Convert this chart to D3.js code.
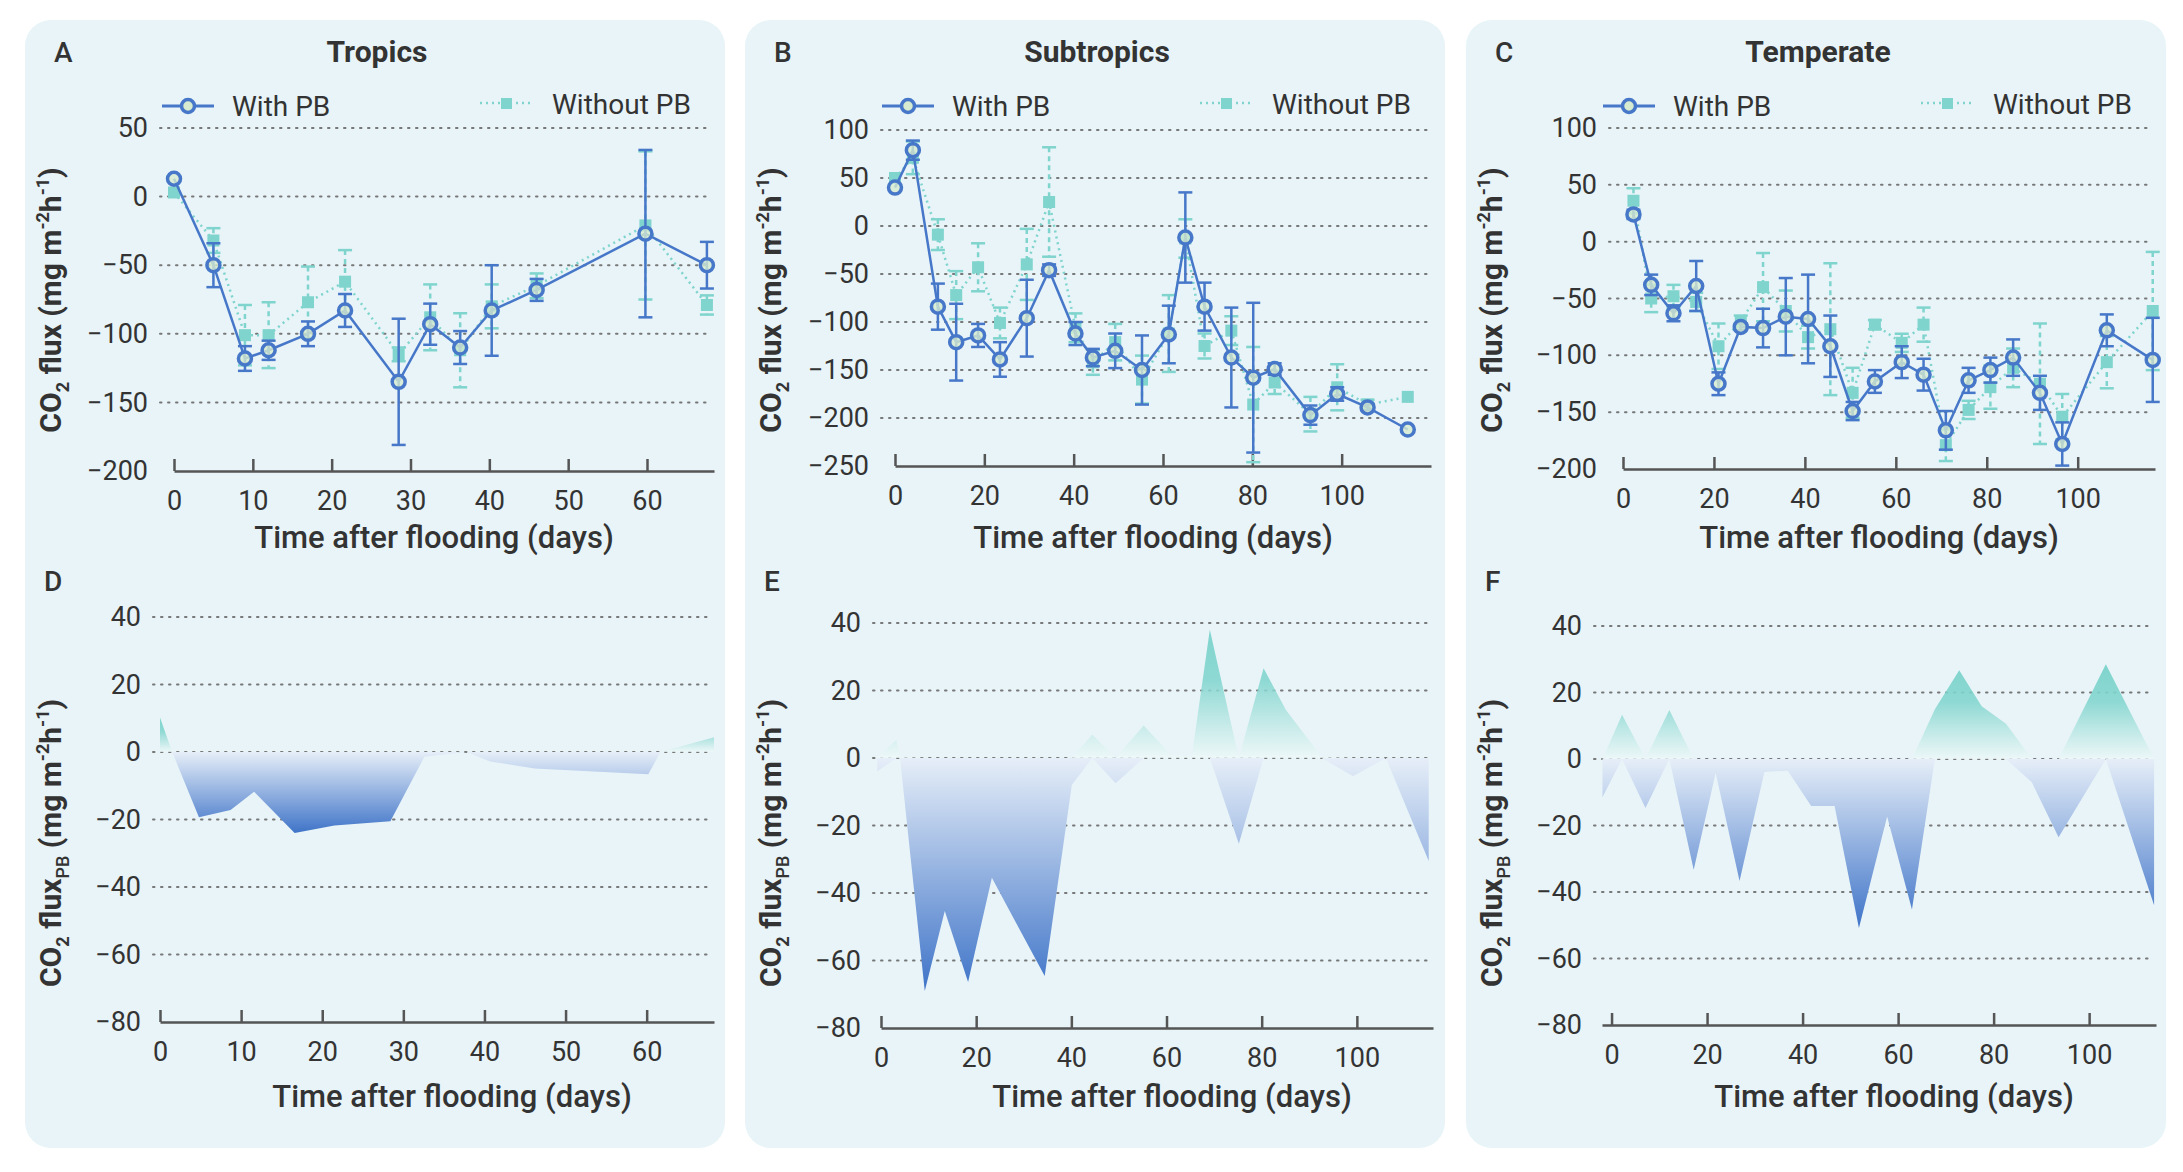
<!DOCTYPE html>
<html>
<head>
<meta charset="utf-8">
<script src="https://cdn.jsdelivr.net/npm/d3@7"></script>
<style>
  body { margin: 0; background: #fff; }
  svg { font-family: Roboto, 'Noto Sans', sans-serif; }
</style>
</head>
<body>
<svg width="2183" height="1172"></svg>
<script>
// Tropics (A, D)
const tropicsDays = [0, 5, 9, 12, 17, 21.7, 28.5, 32.5, 36.3, 40.3, 46, 59.8, 67.6]
const tropicsWith = [13, -50, -118, -112, -100, -83, -135, -93, -110, -83, -68, -27, -50]
const tropicsWithErr = [0, 16, 9, 7, 9, 12, 46, 15, 12, 33, 8, 61, 17]
const tropicsWithout = [3, -32, -101, -101, -77, -62, -115, -88, -112, -80, -65, -21, -79]
const tropicsWithoutErr = [0, 9, 22, 24, 26, 23, 5, 24, 27, 16, 9, 54, 7]
const tropicsPbDays = [0, 1.5, 4.8, 8.7, 11.6, 16.6, 21.5, 28.4, 32.6, 37.8, 40.7, 46.2, 60.2, 61.7, 68.3]
const tropicsPb = [10.2, 0, -19.3, -17.2, -11.8, -24, -21.8, -20.5, -1.4, 0, -2.8, -4.9, -6.6, 0, 4.4]

// Subtropics (B, E)
const subDays = [0, 4, 9.6, 13.7, 18.6, 23.5, 29.5, 34.5, 40.4, 44.3, 49.3, 55.3, 61.3, 65, 69.3, 75.3, 80.2, 85, 93, 99, 105.8, 114.8]
const subWith = [40, 79, -84, -121, -114, -139, -96, -46, -112, -137, -130, -150, -113, -12, -84, -137, -158, -149, -197, -175, -189, -212]
const subWithErr = [0, 10, 24, 40, 12, 18, 40, 6, 12, 9, 18, 36, 30, 47, 25, 52, 78, 6, 10, 7, 3, 0]
const subWithout = [50, 71, -9, -72, -43, -101, -40, 25, -106, -142, -121, -160, -112, -13, -125, -109, -186, -163, -196, -168, -186, -178]
const subWithoutErr = [0, 17, 16, 25, 25, 16, 37, 57, 15, 13, 19, 25, 40, 20, 13, 15, 60, 12, 18, 24, 5, 0]
const subPbDays = [-0.8, 3.2, 4, 9.2, 13.4, 18.3, 23.3, 34.4, 40.1, 44.4, 49.3, 55.2, 60.9, 65.3, 69.1, 75.2, 80.4, 85.1, 92.6, 99.2, 106.1, 115.1]
const subPb = [-4, 5.3, 0.3, -69, -45.3, -66.4, -35.5, -64.6, -8, 7, -7.5, 9.6, 1, 0.4, 38, -25.4, 26.6, 14.2, 0.3, -5.4, 0, -30.5]

// Temperate (C, F)
const tempDays = [2.3, 6.2, 11.1, 16.1, 21, 25.9, 30.8, 35.8, 40.7, 45.6, 50.5, 55.4, 61.3, 66.1, 71, 76, 80.8, 85.8, 91.7, 96.6, 106.4, 116.5]
const tempWith = [24, -38, -63, -39, -125, -75, -76, -66, -68, -92, -149, -123, -106, -117, -166, -122, -113, -102, -133, -178, -78, -104]
const tempWithErr = [4, 9, 7, 22, 10, 3, 17, 34, 39, 27, 8, 10, 14, 14, 17, 11, 11, 16, 15, 19, 14, 37]
const tempWithout = [36, -50, -48, -53, -92, -70, -40, -61, -84, -77, -133, -73, -89, -73, -179, -148, -128, -111, -125, -154, -106, -61]
const tempWithoutErr = [11, 12, 10, 8, 20, 5, 30, 18, 10, 58, 22, 4, 8, 15, 14, 8, 19, 17, 53, 20, 23, 52]
const tempPbDays = [-1.9, 2.2, 7.1, 12.1, 17.2, 21.8, 26.8, 32, 36.9, 41.8, 46.7, 51.8, 57.7, 62.9, 67.7, 72.8, 77.5, 82.6, 88, 93.6, 103.5, 113.6]
const tempPb = [-11.5, 13.3, -14.7, 14.7, -33.3, -4.1, -36.7, -3.9, -3.5, -14.1, -14.1, -50.8, -17.3, -45.3, 15, 26.7, 15.9, 10.6, -7, -23.5, 28.5, -44]

const titles = ['Tropics', 'Subtropics', 'Temperate']
const topLetters = ['A', 'B', 'C']
const bottomLetters = ['D', 'E', 'F']

const svg = d3.select('svg')
const blue = '#4677c8'
const teal = '#7fd4cd'
const text = '#333'

const panelX = [25, 745, 1466]
const panelW = 700

const topPanels = [
  { days: tropicsDays, w: tropicsWith, we: tropicsWithErr, wo: tropicsWithout, woe: tropicsWithoutErr,
    x0: 174, x1: 714, xd: [0, 68.5], xt: d3.range(0, 61, 10), yd: [-200, 50], yt: d3.range(-200, 51, 50), yTop: 128, yBot: 471 },
  { days: subDays, w: subWith, we: subWithErr, wo: subWithout, woe: subWithoutErr,
    x0: 895, x1: 1431, xd: [0, 120], xt: d3.range(0, 101, 20), yd: [-250, 100], yt: d3.range(-250, 101, 50), yTop: 130, yBot: 466 },
  { days: tempDays, w: tempWith, we: tempWithErr, wo: tempWithout, woe: tempWithoutErr,
    x0: 1623, x1: 2155, xd: [0, 117], xt: d3.range(0, 101, 20), yd: [-200, 100], yt: d3.range(-200, 101, 50), yTop: 128, yBot: 469 }
]
const bottomPanels = [
  { days: tropicsPbDays, v: tropicsPb, x0: 160, x1: 714, xd: [0, 68.3], xt: d3.range(0, 61, 10), yTop: 617, yBot: 1022 },
  { days: subPbDays, v: subPb, x0: 881, x1: 1433, xd: [0, 116], xt: d3.range(0, 101, 20), yTop: 623, yBot: 1028 },
  { days: tempPbDays, v: tempPb, x0: 1602, x1: 2156, xd: [-2, 114], xt: d3.range(0, 101, 20), yTop: 626, yBot: 1025 }
]

const defs = svg.append('defs')
makeGradients(defs)

panelX.forEach((px) => {
  svg.append('rect').attr('x', px).attr('y', 20).attr('width', panelW).attr('height', 1128)
    .attr('rx', 26).attr('fill', '#e8f4f8')
})

topPanels.forEach((p, i) => drawTop(p, i))
bottomPanels.forEach((p, i) => drawBottom(p, i))

function makeGradients (defs) {
  const pos = defs.append('linearGradient').attr('id', 'gPos').attr('x1', 0).attr('y1', 0).attr('x2', 0).attr('y2', 1)
  pos.append('stop').attr('offset', '0%').attr('stop-color', teal)
  pos.append('stop').attr('offset', '40%').attr('stop-color', teal).attr('stop-opacity', 0.85)
  pos.append('stop').attr('offset', '100%').attr('stop-color', '#eef8f8').attr('stop-opacity', 0.8)
  const neg = defs.append('linearGradient').attr('id', 'gNeg').attr('x1', 0).attr('y1', 0).attr('x2', 0).attr('y2', 1)
  neg.append('stop').attr('offset', '0%').attr('stop-color', '#e6eef8')
  neg.append('stop').attr('offset', '100%').attr('stop-color', '#3f74c8')
}

function yLabel (g, x, y, sub) {
  const t = g.append('text').attr('transform', `translate(${x},${y}) rotate(-90)`)
    .attr('text-anchor', 'middle').attr('font-size', 30).attr('font-weight', 700).attr('fill', text)
  t.append('tspan').text('CO')
  t.append('tspan').attr('font-size', 18).attr('dy', 8).text('2')
  t.append('tspan').attr('dy', -8).text(' flux')
  if (sub) {
    t.append('tspan').attr('font-size', 18).attr('dy', 8).attr('font-weight', 500).text('PB')
    t.append('tspan').attr('dy', -8).text(' ')
  } else {
    t.append('tspan').text(' ')
  }
  t.append('tspan').text('(mg m')
  t.append('tspan').attr('font-size', 18).attr('dy', -12).text('-2')
  t.append('tspan').attr('dy', 12).text('h')
  t.append('tspan').attr('font-size', 18).attr('dy', -12).text('-1')
  t.append('tspan').attr('dy', 12).text(')')
}

function axes (g, x, y, p, yt, gridL) {
  // dotted grid
  yt.slice(1).forEach((v) => {
    g.append('line').attr('x1', gridL).attr('x2', p.x1 - 4).attr('y1', y(v)).attr('y2', y(v))
      .attr('stroke', '#777').attr('stroke-width', 2).attr('stroke-dasharray', '1.5 6.5').attr('stroke-linecap', 'round')
  })
  const ya = g.append('g').attr('transform', `translate(${gridL - 12},0)`)
    .call(d3.axisLeft(y).tickValues(yt).tickSize(0).tickPadding(0))
  ya.select('.domain').remove()
  ya.selectAll('text').attr('font-size', 27).attr('fill', text).attr('font-family', 'Roboto')
  const xa = g.append('g').attr('transform', `translate(0,${p.yBot})`)
    .call(d3.axisBottom(x).tickValues(p.xt).tickSizeInner(-12).tickSizeOuter(0).tickPadding(20))
  xa.select('.domain').attr('stroke', '#555').attr('stroke-width', 2.5)
  xa.selectAll('.tick line').attr('stroke', '#555').attr('stroke-width', 2.5)
  xa.selectAll('text').attr('font-size', 27).attr('fill', text).attr('font-family', 'Roboto')
}

function drawTop (p, i) {
  const g = svg.append('g')
  const x = d3.scaleLinear().domain(p.xd).range([p.x0, p.x1])
  const y = d3.scaleLinear().domain(p.yd).range([p.yBot, p.yTop])
  const px = panelX[i]
  axes(g, x, y, p, p.yt, p.x0 - 14)

  g.append('text').attr('x', px + 29).attr('y', 62).attr('font-size', 28).attr('font-weight', 500).attr('fill', text).text(topLetters[i])
  g.append('text').attr('x', px + 352).attr('y', 62).attr('text-anchor', 'middle').attr('font-size', 30).attr('font-weight', 700).attr('fill', text).text(titles[i])
  g.append('text').attr('x', (p.x0 + p.x1) / 2 - 10).attr('y', 548).attr('text-anchor', 'middle').attr('font-size', 31).attr('font-weight', 500).attr('fill', text).text('Time after flooding (days)')
  yLabel(g, px + 36, 300, false)

  // legend
  const lx = px + 137
  g.append('line').attr('x1', lx).attr('x2', lx + 52).attr('y1', 106).attr('y2', 106).attr('stroke', blue).attr('stroke-width', 3)
  g.append('circle').attr('cx', lx + 26).attr('cy', 106).attr('r', 6.5).attr('fill', '#d6ebcf').attr('stroke', blue).attr('stroke-width', 3.5)
  g.append('text').attr('x', lx + 70).attr('y', 116).attr('font-size', 28).attr('fill', text).text('With PB')
  const lx2 = px + 455
  g.append('line').attr('x1', lx2).attr('x2', lx2 + 52).attr('y1', 103).attr('y2', 103).attr('stroke', teal).attr('stroke-width', 2.5).attr('stroke-dasharray', '2 4')
  g.append('rect').attr('x', lx2 + 21).attr('y', 98).attr('width', 11).attr('height', 11).attr('fill', teal)
  g.append('text').attr('x', lx2 + 72).attr('y', 114).attr('font-size', 28).attr('fill', text).text('Without PB')

  const rowsWo = p.days.map((d, k) => ({ d, v: p.wo[k], e: p.woe[k] }))
  const rowsW = p.days.map((d, k) => ({ d, v: p.w[k], e: p.we[k] }))
  const line = d3.line().x((r) => x(r.d)).y((r) => y(r.v))

  // without PB
  rowsWo.forEach((r) => errBar(g, x(r.d), y(r.v + r.e), y(r.v - r.e), teal, '5 4', r.e))
  g.append('path').datum(rowsWo).attr('d', line).attr('fill', 'none').attr('stroke', teal).attr('stroke-width', 2.5).attr('stroke-dasharray', '2 4')
  g.selectAll(null).data(rowsWo).join('rect')
    .attr('x', (r) => x(r.d) - 6).attr('y', (r) => y(r.v) - 6).attr('width', 12).attr('height', 12).attr('fill', teal)

  // with PB
  rowsW.forEach((r) => errBar(g, x(r.d), y(r.v + r.e), y(r.v - r.e), blue, null, r.e))
  g.append('path').datum(rowsW).attr('d', line).attr('fill', 'none').attr('stroke', blue).attr('stroke-width', 2.5)
  g.selectAll(null).data(rowsW).join('circle')
    .attr('cx', (r) => x(r.d)).attr('cy', (r) => y(r.v)).attr('r', 6.5)
    .attr('fill', '#d6ebcf').attr('fill-opacity', 0.8).attr('stroke', blue).attr('stroke-width', 3.5)
}

function errBar (g, cx, yHi, yLo, color, dash, e) {
  if (!e) return
  g.append('line').attr('x1', cx).attr('x2', cx).attr('y1', yHi).attr('y2', yLo)
    .attr('stroke', color).attr('stroke-width', 2.5).attr('stroke-dasharray', dash)
  ;[yHi, yLo].forEach((yy) => g.append('line').attr('x1', cx - 7).attr('x2', cx + 7).attr('y1', yy).attr('y2', yy)
    .attr('stroke', color).attr('stroke-width', 2.5))
}

function drawBottom (p, i) {
  const g = svg.append('g')
  const x = d3.scaleLinear().domain(p.xd).range([p.x0, p.x1])
  const y = d3.scaleLinear().domain([-80, 40]).range([p.yBot, p.yTop])
  const px = panelX[i]
  axes(g, x, y, p, d3.range(-80, 41, 20), px + 128)

  g.append('text').attr('x', px + 19).attr('y', 591).attr('font-size', 28).attr('font-weight', 500).attr('fill', text).text(bottomLetters[i])
  g.append('text').attr('x', (p.x0 + p.x1) / 2 + 15).attr('y', 1107).attr('text-anchor', 'middle').attr('font-size', 31).attr('font-weight', 500).attr('fill', text).text('Time after flooding (days)')
  yLabel(g, px + 36, 843, true)

  const rows = p.days.map((d, k) => ({ d, v: p.v[k] }))
  const pos = d3.area().x((r) => x(r.d)).y0(y(0)).y1((r) => y(Math.max(0, r.v)))
  const neg = d3.area().x((r) => x(r.d)).y0(y(0)).y1((r) => y(Math.min(0, r.v)))
  g.append('path').datum(rows).attr('d', pos).attr('fill', 'url(#gPos)')
  g.append('path').datum(rows).attr('d', neg).attr('fill', 'url(#gNeg)')
}
</script>
</body>
</html>
